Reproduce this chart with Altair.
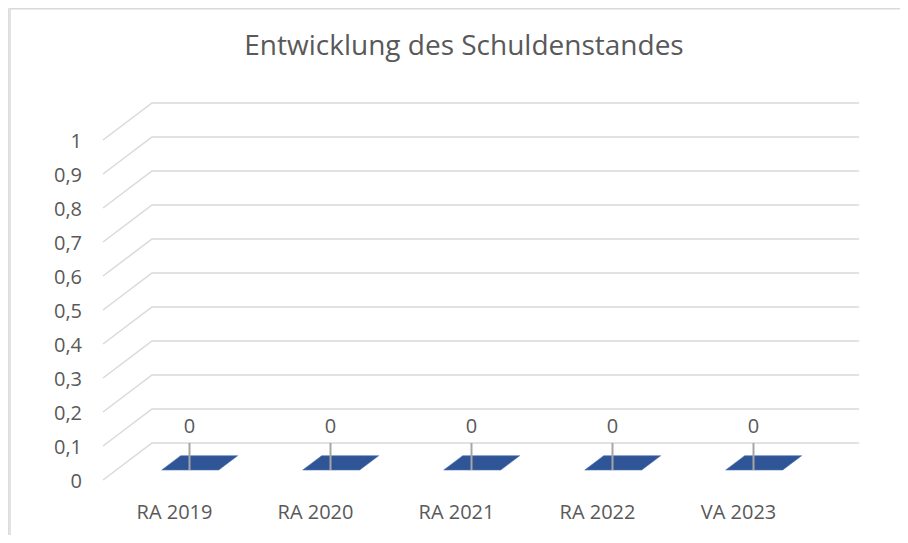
import altair as alt
import pandas as pd

# ---- data ----
categories = ["RA 2019", "RA 2020", "RA 2021", "RA 2022", "VA 2023"]
values = [0, 0, 0, 0, 0]
tick_values = [0.0, 0.1, 0.2, 0.3, 0.4, 0.5, 0.6, 0.7, 0.8, 0.9, 1.0]
tick_labels = ["0", "0,1", "0,2", "0,3", "0,4", "0,5", "0,6", "0,7", "0,8", "0,9", "1"]
title_text = "Entwicklung des Schuldenstandes"

# ---- geometry of the pseudo-3D frame (in scale units) ----
W, H = 892, 527
PX_CAT = 141.0      # pixels per category step
PX_VAL = 340.0      # pixels per value unit
X0 = 181.5          # pixel of first category
Y0 = 472.0          # pixel of value 0 (front)
X_DOMAIN = [-X0 / PX_CAT, (W - X0) / PX_CAT]
Y_DOMAIN = [(Y0 - H) / PX_VAL, Y0 / PX_VAL]
DX = 49 / PX_CAT    # depth shift in x
DY = 37 / PX_VAL    # depth shift in y
WALL_FRONT = -86.5 / PX_CAT
WALL_BACK = WALL_FRONT + DX
RIGHT_END = 669.5 / PX_CAT
BAR_L, BAR_R = -41 / PX_CAT, 16 / PX_CAT   # footprint at depth 0
D1, D2 = 0.27, 0.657                        # bar depth range

FONT = "Open Sans"
TXT = "#595959"

xs = alt.Scale(domain=X_DOMAIN, nice=False, zero=False)
ys = alt.Scale(domain=Y_DOMAIN, nice=False, zero=False)

# gridlines
grid_rows = []
for v in tick_values:
    grid_rows += [
        {"tick": v, "pt": 0, "x": WALL_FRONT, "y": v},
        {"tick": v, "pt": 1, "x": WALL_BACK, "y": v + DY},
        {"tick": v, "pt": 2, "x": RIGHT_END, "y": v + DY},
    ]
grid_df = pd.DataFrame(grid_rows)

# bars (top face of each zero-height bar)
bar_rows = []
for i, (c, val) in enumerate(zip(categories, values)):
    for d in (D1, D2):
        bar_rows.append({"cat": c, "y": val + d * DY,
                         "l": i + BAR_L + d * DX, "r": i + BAR_R + d * DX})
bar_df = pd.DataFrame(bar_rows)

cat_df = pd.DataFrame({"cat": categories, "i": list(range(len(categories))),
                       "value": values,
                       "floor_back": [DY] * len(categories),
                       "front": [v + D1 * DY for v in values]})
tick_df = pd.DataFrame({"v": tick_values, "label": tick_labels,
                        "x": [WALL_FRONT] * len(tick_values)})

grid = alt.Chart(grid_df).mark_line(color="#D9D9D9", strokeWidth=1.5).encode(
    x=alt.X("x:Q", scale=xs, axis=None),
    y=alt.Y("y:Q", scale=ys, axis=None),
    detail="tick:N",
    order="pt:O",
)

bars = alt.Chart(bar_df).mark_area(orient="horizontal", color="#2F5597",
                                   stroke="#4F73B8", strokeWidth=0.6).encode(
    y=alt.Y("y:Q", scale=ys, axis=None),
    x=alt.X("l:Q", scale=xs, axis=None),
    x2="r:Q",
    detail="cat:N",
)

ticks = alt.Chart(cat_df).mark_rule(color="#A6A6A6", strokeWidth=2).encode(
    x=alt.X("i:Q", scale=xs, axis=None),
    y=alt.Y("floor_back:Q", scale=ys, axis=None),
    y2="front:Q",
)

val_labels = alt.Chart(cat_df).mark_text(font=FONT, fontSize=20, color=TXT,
                                         baseline="middle", dy=-53).encode(
    x=alt.X("i:Q", scale=xs, axis=None),
    y=alt.Y("value:Q", scale=ys, axis=None),
    text=alt.Text("value:Q", format="d"),
)

cat_labels = alt.Chart(cat_df).mark_text(font=FONT, fontSize=20, color=TXT,
                                         baseline="alphabetic", dx=-15, dy=39).encode(
    x=alt.X("i:Q", scale=xs, axis=None),
    y=alt.Y("value:Q", scale=ys, axis=None),
    text="cat:N",
)

y_labels = alt.Chart(tick_df).mark_text(font=FONT, fontSize=20, color=TXT,
                                        align="right", baseline="alphabetic",
                                        dx=-21, dy=8).encode(
    x=alt.X("x:Q", scale=xs, axis=None),
    y=alt.Y("v:Q", scale=ys, axis=None),
    text="label:N",
)

border = alt.Chart(pd.DataFrame({"a": [0]})).mark_rule(color="#D9D9D9", strokeWidth=1.5)
border_left = border.encode(x=alt.value(2), y=alt.value(0), y2=alt.value(H))
border_top = border.encode(x=alt.value(2), x2=alt.value(W), y=alt.value(0.75))

chart = alt.layer(grid, bars, ticks, val_labels, cat_labels, y_labels,
                  border_left, border_top).properties(
    width=W, height=H,
    title=alt.TitleParams(title_text, font=FONT, fontSize=28, fontWeight="normal",
                          color=TXT, anchor="middle", frame="group",
                          baseline="alphabetic", offset=0, dy=76, dx=10),
    autosize=alt.AutoSizeParams(type="none"),
    padding=0,
).configure_view(stroke=None).configure(background="white")

chart.save("out.html", embed_options={"renderer": "svg", "actions": False})
